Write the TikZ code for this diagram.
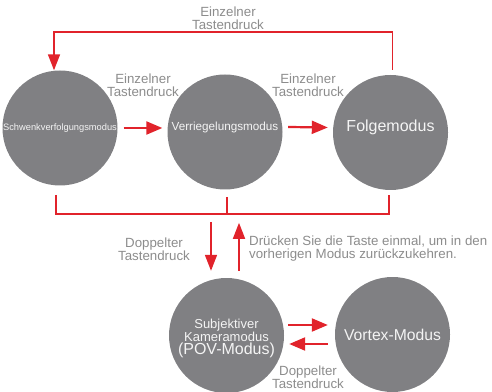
\documentclass[tikz,border=0pt]{standalone}
\usepackage{fontspec}
\setmainfont{Liberation Sans}
\usetikzlibrary{arrows.meta, positioning, calc}
\definecolor{modegray}{HTML}{808083}
\definecolor{arrowred}{HTML}{E1232B}
\definecolor{labelgray}{HTML}{8C8C8C}
\definecolor{modetext}{HTML}{F4F4F4}

\begin{document}
\begin{tikzpicture}[x=1pt, y=1pt,
  mode/.style={circle, fill=modegray, minimum size=115pt, inner sep=0pt, text=modetext, align=center},
  modelbl/.style={text=modetext, inner sep=0pt, align=center},
  lbl/.style={text=labelgray, align=center, font=\fontsize{13.3}{13}\selectfont, inner sep=0pt},
  arr/.style={-{Triangle[length=16pt, width=13pt]}, line width=2.2pt, arrowred},
  varr/.style={-{Triangle[length=16pt, width=12pt]}, line width=1.6pt, arrowred},
  link/.style={line width=1.6pt, arrowred}
]
\useasboundingbox (0,0) rectangle (492,391);

% upper row of modes
\node[mode, font=\fontsize{9.3}{11}\selectfont] (pan) at (60,263) {Schwenkverfolgungsmodus};
\node[mode, label={[modelbl, yshift=5pt, font=\fontsize{11.7}{13}\selectfont]center:Verriegelungsmodus}] (lock) at (225,259) {};
\node[mode, label={[modelbl, yshift=5pt, font=\fontsize{16}{18}\selectfont]center:Folgemodus}] (follow) at (390.5,258.5) {};

% lower row of modes
\node[mode, label={[modelbl, yshift=-3pt, font=\fontsize{13}{12.5}\selectfont]center:Subjektiver\\Kameramodus\\[1pt]{\fontsize{16}{14}\selectfont(POV-Modus)}}] (pov) at (226.5,55.5) {};
\node[mode, font=\fontsize{15.7}{18}\selectfont] (vortex) at (392.5,56.5) {Vortex-Modus};

% labels
\node[lbl] (toplbl) at (228,373) {Einzelner\\Tastendruck};
\node[lbl] (lbl12) at (143,306) {Einzelner\\Tastendruck};
\node[lbl] (lbl23) at (308,306) {Einzelner\\Tastendruck};
\node[lbl] (dbl) at (154,142) {Doppelter\\Tastendruck};
\node[lbl, align=left, anchor=west] (back) at (249,142) {Drücken Sie die Taste einmal, um in den\\vorherigen Modus zurückzukehren.};
\node[lbl] (dbl2) at (308,14) {Doppelter\\Tastendruck};

% single presses
\draw[arr] ([xshift=6pt]pan.east) -- ([xshift=-5pt]pan.east -| lock.west);
\draw[arr] ([xshift=5.5pt,yshift=5pt]lock.east) -- ([xshift=-5pt,yshift=5pt]follow.west);
\draw[varr] ([xshift=2pt,yshift=5pt]follow.north) -- ++(0,37.5) -| ([xshift=-6pt]pan.north);

% bracket under the upper row
\coordinate (bl) at (56,196);
\coordinate (bm) at (227,194);
\coordinate (br) at (389,196);
\draw[link] (bl) -- ++(0,-19) -| (br);
\draw[link] (bm) -- ++(0,-17);

% double press and back
\draw[varr] ([xshift=-15.5pt,yshift=56pt]pov.north) -- ([xshift=-15.5pt,yshift=7pt]pov.north);
\draw[varr] ([xshift=12.5pt,yshift=7pt]pov.north) -- ([xshift=12.5pt,yshift=55pt]pov.north);

\draw[arr] ([xshift=4pt,yshift=10.5pt]pov.east) -- ([xshift=-7pt,yshift=9.5pt]vortex.west);
\draw[arr] ([xshift=-7pt,yshift=-9.5pt]vortex.west) -- ([xshift=5pt,yshift=-8.5pt]pov.east);
\end{tikzpicture}
\end{document}
